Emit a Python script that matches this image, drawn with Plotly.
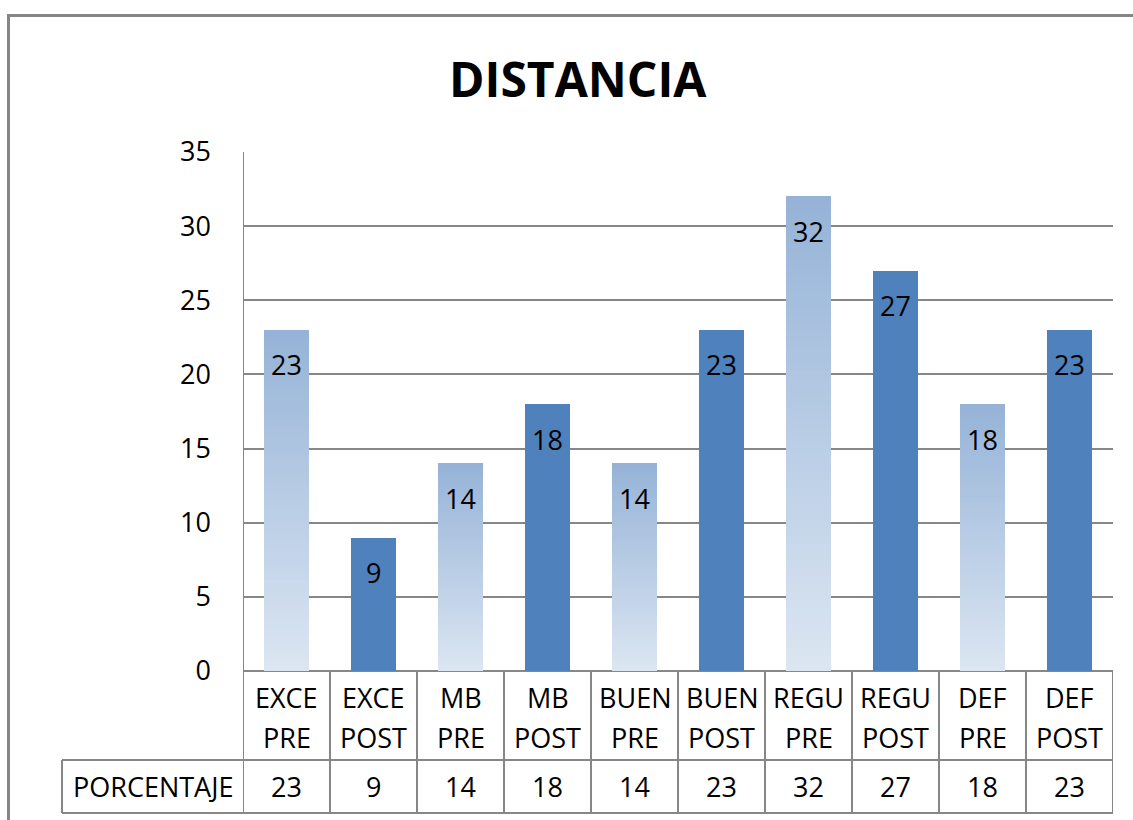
import plotly.graph_objects as go

# Data
categories = ["EXCE PRE", "EXCE POST", "MB PRE", "MB POST", "BUEN PRE",
              "BUEN POST", "REGU PRE", "REGU POST", "DEF PRE", "DEF POST"]
values = [23, 9, 14, 18, 14, 23, 32, 27, 18, 23]
row_label = "PORCENTAJE"
title_text = "DISTANCIA"
y_ticks = [0, 5, 10, 15, 20, 25, 30, 35]

# Page geometry (pixels)
W, H = 1133, 820
L, R, T, B = 243, 1113, 152, 671
ROW1_BOTTOM, ROW2_BOTTOM = 760, 813
LABEL_CELL_LEFT = 62
LINE_CENTERS = (697, 737)   # two text lines of the category row

FONT = "Open Sans, sans-serif"
TXT = 27
GRID = "#878787"
SOLID = "#4F81BD"
GRAD_BOTTOM = (220, 230, 242)
GRAD_TOP = (149, 179, 215)


def px_x(p):
    return (p - L) / (R - L)


def px_y(p):
    return (B - p) / (B - T)


idx = list(range(len(categories)))
pre_idx = [i for i, c in enumerate(categories) if c.endswith("PRE")]
post_idx = [i for i, c in enumerate(categories) if c.endswith("POST")]
pre_vals = [values[i] for i in pre_idx]
post_vals = [values[i] for i in post_idx]

fig = go.Figure()

# PRE bars: vertical gradient built from stacked slices of each bar
N = 60
for k in range(N):
    f = (k + 0.5) / N
    c = tuple(round(GRAD_BOTTOM[j] + (GRAD_TOP[j] - GRAD_BOTTOM[j]) * f) for j in range(3))
    fig.add_trace(go.Bar(
        x=pre_idx, y=[v / N for v in pre_vals], base=[v * k / N for v in pre_vals],
        width=0.52, marker=dict(color="rgb(%d,%d,%d)" % c, line=dict(width=0)),
        hoverinfo="skip", showlegend=False))

# POST bars: solid fill
fig.add_trace(go.Bar(
    x=post_idx, y=post_vals, width=0.52,
    marker=dict(color=SOLID, line=dict(width=0)),
    hoverinfo="skip", showlegend=False))

annotations = []
# value labels inside the top of each bar
for i, v in zip(idx, values):
    annotations.append(dict(x=i, y=v, xref="x", yref="y", text=str(v),
                            showarrow=False, yanchor="middle", yshift=-35,
                            font=dict(family=FONT, size=TXT, color="black")))

# data table under the axis
row2_mid = px_y((ROW1_BOTTOM + ROW2_BOTTOM) / 2)
for i, c in zip(idx, categories):
    for part, yc in zip(c.split(" "), LINE_CENTERS):
        annotations.append(dict(x=i, y=px_y(yc), xref="x", yref="paper",
                                text=part, showarrow=False, yanchor="middle",
                                font=dict(family=FONT, size=TXT, color="black")))
    annotations.append(dict(x=i, y=row2_mid, xref="x", yref="paper",
                            text=str(values[i]), showarrow=False, yanchor="middle",
                            font=dict(family=FONT, size=TXT, color="black")))
annotations.append(dict(x=px_x((LABEL_CELL_LEFT + L) / 2), y=row2_mid, xref="paper",
                        yref="paper", text=row_label, showarrow=False,
                        yanchor="middle", xanchor="center",
                        font=dict(family=FONT, size=TXT, color="black")))

# title
annotations.append(dict(x=px_x(578), y=px_y(78), xref="paper", yref="paper",
                        text=title_text, showarrow=False, yanchor="middle",
                        font=dict(family=FONT, size=48, color="black", weight="bold")))

shapes = []
line = dict(color=GRID, width=2)
y_r1 = px_y(ROW1_BOTTOM)
y_r2 = px_y(ROW2_BOTTOM)
# vertical cell dividers
for i in range(len(categories) + 1):
    y_top = 1 if i == 0 else 0
    shapes.append(dict(type="line", xref="x", yref="paper", x0=i - 0.5, x1=i - 0.5,
                       y0=y_top, y1=y_r2, line=line))
shapes.append(dict(type="line", xref="paper", yref="paper",
                   x0=px_x(LABEL_CELL_LEFT), x1=px_x(LABEL_CELL_LEFT),
                   y0=y_r1, y1=y_r2, line=line))
# horizontal row lines
for yy in (y_r1, y_r2):
    shapes.append(dict(type="line", xref="paper", yref="paper",
                       x0=px_x(LABEL_CELL_LEFT), x1=1, y0=yy, y1=yy, line=line))
# outer frame
shapes.append(dict(type="rect", xref="paper", yref="paper",
                   x0=px_x(8.5), x1=px_x(W + 20), y0=px_y(15.5), y1=px_y(H + 20),
                   line=dict(color="#868686", width=3), fillcolor="rgba(0,0,0,0)"))

fig.update_layout(
    width=W, height=H,
    margin=dict(l=L, r=W - R, t=T, b=H - B, pad=0),
    paper_bgcolor="white", plot_bgcolor="white",
    barmode="overlay", bargap=0,
    annotations=annotations, shapes=shapes,
    showlegend=False,
    xaxis=dict(range=[-0.5, len(categories) - 0.5], showticklabels=False,
               showgrid=False, zeroline=False, showline=False, fixedrange=True),
    yaxis=dict(range=[0, 35], tickvals=y_ticks, showgrid=True, gridcolor=GRID,
               gridwidth=2, zeroline=True, zerolinecolor=GRID, zerolinewidth=2,
               showline=False, ticks="", ticklabelstandoff=31,
               tickfont=dict(family=FONT, size=TXT, color="black"), fixedrange=True),
)

fig.write_html("out.html", config={"displayModeBar": False})
